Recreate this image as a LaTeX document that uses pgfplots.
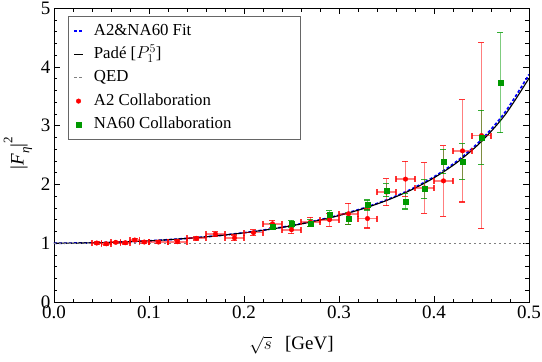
\documentclass[border=0pt]{standalone}
\usepackage{fontspec}
\setmainfont{Liberation Serif}
\usepackage{pgfplots}
\usepackage{pgfplotstable}
\pgfplotsset{compat=1.18}

\definecolor{naGreen}{rgb}{0,0.6,0}
\definecolor{qedGray}{gray}{0.5}
\definecolor{frameGray}{gray}{0.4}

% short legend swatches
\pgfplotsset{
  shortline/.style={legend image code/.code={\draw[##1] (0pt,0pt) -- (9pt,0pt);}},
  singlemark/.style={legend image code/.code={\draw[##1] plot coordinates {(4.5pt,0pt)};}},
}

% A2 collaboration: sqrt(s), |F|^2, bin half-width, uncertainty
\pgfplotstableread{
x      y      ex     ey
0.045  1.003  0.005  0.02
0.055  0.990  0.005  0.02
0.065  1.015  0.005  0.02
0.075  1.008  0.005  0.02
0.085  1.054  0.005  0.03
0.095  1.020  0.005  0.02
0.11   1.020  0.01   0.02
0.13   1.025  0.01   0.03
0.15   1.083  0.01   0.03
0.17   1.156  0.01   0.04
0.19   1.090  0.01   0.05
0.21   1.180  0.01   0.05
0.23   1.330  0.01   0.06
0.25   1.230  0.01   0.07
0.27   1.360  0.01   0.08
0.29   1.400  0.01   0.11
0.31   1.500  0.01   0.18
0.33   1.420  0.01   0.16
0.35   1.870  0.01   0.23
0.37   2.090  0.01   0.30
0.39   1.940  0.01   0.43
0.41   2.060  0.01   0.60
0.43   2.570  0.01   0.87
0.45   2.830  0.01   1.58
}\atwo

% NA60 collaboration: sqrt(s), |F|^2, uncertainty
\pgfplotstableread{
x      y      ey
0.23   1.28   0.05
0.25   1.33   0.06
0.27   1.34   0.06
0.29   1.48   0.07
0.31   1.42   0.10
0.33   1.65   0.085
0.35   1.90   0.11
0.37   1.71   0.13
0.39   1.92   0.16
0.41   2.39   0.21
0.43   2.39   0.30
0.45   2.80   0.46
0.47   3.73   0.85
}\nasixty

\newcommand{\ticksize}{\fontsize{19}{22}\selectfont}
\newcommand{\legsize}{\fontsize{16.8}{19}\selectfont}

\begin{document}
\begin{tikzpicture}
\begin{axis}[
  at={(0pt,0pt)}, anchor=south west,
  width=475pt, height=294pt, scale only axis,
  xmin=0, xmax=0.5, ymin=0, ymax=5,
  xtick={0,0.1,0.2,0.3,0.4,0.5},
  ytick={0,1,2,3,4,5},
  minor x tick num=4, minor y tick num=4,
  tick align=inside,
  major tick length=6pt, minor tick length=3.5pt,
  tick style={black, line width=0.5pt},
  axis line style={line width=0.6pt},
  /pgf/number format/assume math mode=true,
  xticklabel style={/pgf/number format/.cd, fixed, fixed zerofill, precision=1},
  ticklabel style={font=\ticksize},
  xlabel={$\sqrt{s}$\hspace{0.7em}[GeV]},
  ylabel={\textbar\textit{F}\raisebox{-0.3em}{\fontsize{13}{13}\selectfont\textit{η}}\textbar\raisebox{0.6em}{\fontsize{13}{13}\selectfont 2}},
  label style={font=\ticksize},
  xlabel style={at={(axis description cs:0.5,-0.146)}, anchor=center},
  ylabel style={at={(axis description cs:-0.076,0.507)}, anchor=center},
  legend style={draw=none, fill=none, font=\legsize,
    at={(axis description cs:0.04,0.949)}, anchor=north west,
    row sep=7.3pt, column sep=10pt, inner sep=0pt,
    nodes={inner sep=0pt, text height=12pt, text depth=4pt}},
  legend cell align=left,
]

% fits
\addplot[blue, line width=1.7pt, dash pattern=on 3pt off 2pt, smooth, shortline] coordinates {
(0,1) (0.025,1.00246) (0.05,1.00991) (0.075,1.02250) (0.1,1.04052)
(0.125,1.06441) (0.15,1.09474) (0.175,1.13228) (0.2,1.17805)
(0.225,1.23335) (0.25,1.29991) (0.275,1.37993) (0.3,1.47635)
(0.325,1.59309) (0.35,1.73543) (0.375,1.91066) (0.4,2.12901)
(0.425,2.40527) (0.45,2.76146) (0.475,3.23142) (0.5,3.86955)};
\addlegendentry{A2\&NA60 Fit}

\addplot[black, line width=1.1pt, smooth, shortline] coordinates {
(0,1) (0.025,1.00244) (0.05,1.00982) (0.075,1.02230) (0.1,1.04016)
(0.125,1.06382) (0.15,1.09385) (0.175,1.13101) (0.2,1.17628)
(0.225,1.23097) (0.25,1.29672) (0.275,1.37571) (0.3,1.47080)
(0.325,1.58579) (0.35,1.72581) (0.375,1.89790) (0.4,2.11196)
(0.425,2.38220) (0.45,2.72968) (0.475,3.18667) (0.5,3.80470)};
\addlegendentry{Padé [$P_1^5$]}

\addplot[qedGray, line width=1.4pt, dash pattern=on 2.5pt off 2.5pt, shortline] coordinates {(0,1) (0.5,1)};
\addlegendentry{QED}

% data
\addplot[only marks, mark=*, mark size=2.3pt, red, mark options={draw=red, fill=red}, singlemark,
  error bars/.cd, x dir=both, x explicit, y dir=both, y explicit,
  error bar style={line width=1.7pt, red, draw opacity=0.5},
  error mark options={rotate=90, mark size=3pt, line width=1.2pt, red, draw opacity=0.8}]
  table[x=x, y=y, x error=ex, y error=ey] {\atwo};
\addlegendentry{A2 Collaboration}

\addplot[only marks, mark=square*, mark size=2.5pt, naGreen, mark options={draw=naGreen, fill=naGreen}, singlemark,
  error bars/.cd, y dir=both, y explicit,
  error bar style={line width=1.7pt, naGreen, draw opacity=0.5},
  error mark options={rotate=90, mark size=3pt, line width=1.2pt, naGreen, draw opacity=0.8}]
  table[x=x, y=y, y error=ey] {\nasixty};
\addlegendentry{NA60 Collaboration}

% legend frame
\draw[frameGray, line width=0.7pt] (axis description cs:0.0295,0.553) rectangle (axis description cs:0.518,0.970);
\end{axis}
\pgfresetboundingbox
\path[use as bounding box] (-54pt,-60pt) rectangle (488pt,302pt);
\end{tikzpicture}
\end{document}
